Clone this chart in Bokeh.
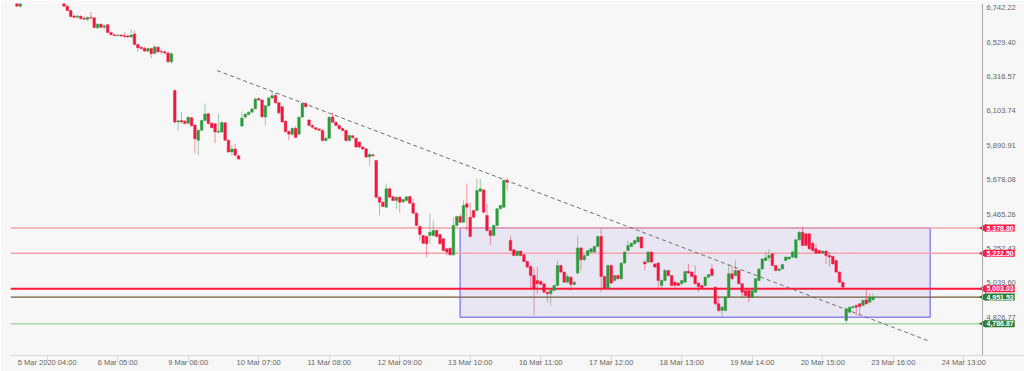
import numpy as np
from bokeh.plotting import figure
from bokeh.models import (ColumnDataSource, FixedTicker, NumeralTickFormatter, Label,
                          Range1d, BoxAnnotation, LinearAxis)
from bokeh.embed import file_html
from bokeh.resources import INLINE

# ---------------- data ----------------
# bar index of first candle (tick "5 Mar 2020 04:00" is bar 0).
# None = candle lies entirely above the visible price range (not readable)
first_bar = -10

opens = [
    None, 6795, 6752, None, None, None, None, None, None, None,
    None, None, None, None, None, 6790, 6752, 6725, 6692, 6684,
    6690, 6678, 6670, 6684, 6680, 6618, 6640, 6622, 6638, 6590,
    6576, 6570, 6574, 6570, 6568, 6562, 6580, 6515, 6498, 6492,
    6474, 6490, 6460, 6498, 6472, 6470, 6462, 6408, 6230, 6035,
    6044, 6040, 6028, 6062, 6016, 5922, 5984, 6044, 6086, 6028,
    6024, 5972, 5974, 6030, 5922, 5850, 5868, 5826, 6010, 6066,
    6082, 6096, 6118, 6180, 6172, 6066, 6136, 6184, 6200, 6154,
    6130, 6040, 5976, 5960, 5996, 5960, 6066, 6150, 6048, 6014,
    6000, 5992, 5983, 5921, 5935, 6066, 6034, 6014, 5995, 5983,
    5921, 5950, 5935, 5911, 5880, 5869, 5820, 5832, 5797, 5570,
    5539, 5508, 5622, 5572, 5550, 5570, 5540, 5549, 5574, 5533,
    5471, 5389, 5333, 5327, 5333, 5333, 5364, 5339, 5312, 5250,
    5254, 5213, 5395, 5450, 5415, 5529, 5446, 5487, 5487, 5607,
    5615, 5457, 5364, 5333, 5395, 5498, 5508, 5673, 5302, 5244,
    5209, 5236, 5213, 5172, 5141, 5085, 5054, 5050, 5034, 4982,
    4972, 4992, 5023, 5147, 5106, 5044, 5075, 5030, 5100, 5256,
    5182, 5209, 5230, 5230, 5265, 5327, 5079, 5007, 5147, 5054,
    5085, 5065, 5162, 5240, 5265, 5281, 5292, 5323, 5168, 5168,
    5230, 5157, 5162, 5023, 5054, 5116, 5085, 5044, 5038, 5034,
    5044, 5112, 5106, 5085, 5038, 5023, 5023, 5075, 5126, 5013,
    4910, 4869, 4869, 4951, 5096, 5085, 5116, 5034, 4992, 4992,
    4951, 4982, 5054, 5126, 5178, 5195, 5219, 5147, 5116, 5126,
    5178, 5188, 5199, 5195, 5306, 5353, 5343, 5343, 5285, 5250,
    5240, 5223, 5236, 5209, 5203, 5178, 5106, 5044, 4807, 4858,
    4885, 4900, 4910, 4900, 4935, 4920, 4935,
]
highs = [
    None, 6810, 6815, None, None, None, None, None, None, None,
    None, None, None, None, None, 6800, 6762, 6728, 6700, 6700,
    6694, 6692, 6690, 6715, 6682, 6648, 6645, 6642, 6642, 6595,
    6582, 6580, 6578, 6590, 6575, 6610, 6600, 6518, 6505, 6500,
    6496, 6495, 6512, 6508, 6488, 6480, 6470, 6468, 6235, 6048,
    6096, 6046, 6070, 6066, 6022, 5990, 6050, 6148, 6090, 6034,
    6030, 6085, 6040, 6035, 5928, 5893, 5900, 5830, 6100, 6090,
    6102, 6122, 6185, 6186, 6176, 6140, 6195, 6220, 6215, 6160,
    6134, 6048, 5985, 6002, 6010, 6070, 6158, 6158, 6052, 6020,
    6004, 5996, 5990, 5940, 6070, 6096, 6040, 6018, 6000, 5988,
    5958, 5955, 5940, 5916, 5884, 5872, 5840, 5836, 5802, 5575,
    5544, 5653, 5628, 5576, 5575, 5574, 5560, 5578, 5578, 5560,
    5476, 5394, 5338, 5332, 5467, 5426, 5370, 5345, 5318, 5254,
    5258, 5446, 5456, 5467, 5549, 5653, 5539, 5492, 5683, 5683,
    5620, 5529, 5370, 5400, 5504, 5524, 5680, 5690, 5330, 5250,
    5240, 5240, 5218, 5176, 5146, 5133, 5137, 5054, 5038, 4986,
    4996, 5028, 5178, 5152, 5110, 5096, 5080, 5048, 5333, 5262,
    5214, 5244, 5254, 5270, 5332, 5374, 5084, 5152, 5152, 5090,
    5090, 5167, 5235, 5302, 5290, 5306, 5328, 5328, 5180, 5235,
    5235, 5162, 5167, 5060, 5126, 5120, 5090, 5048, 5042, 5058,
    5114, 5157, 5110, 5147, 5042, 5028, 5080, 5096, 5157, 5020,
    4961, 4895, 4956, 5157, 5147, 5178, 5120, 5038, 4996, 4996,
    4996, 5070, 5130, 5192, 5230, 5250, 5224, 5150, 5130, 5158,
    5203, 5204, 5240, 5310, 5358, 5389, 5350, 5348, 5290, 5281,
    5244, 5240, 5240, 5230, 5208, 5182, 5110, 5048, 4885, 4894,
    4898, 4904, 4915, 4936, 5003, 4976, 4976,
]
lows = [
    None, 6748, 6742, None, None, None, None, None, None, None,
    None, None, None, None, None, 6748, 6722, 6682, 6676, 6678,
    6668, 6664, 6660, 6667, 6615, 6612, 6615, 6608, 6585, 6570,
    6565, 6566, 6562, 6555, 6555, 6558, 6512, 6470, 6485, 6470,
    6468, 6432, 6455, 6462, 6455, 6455, 6402, 6395, 6025, 5983,
    6024, 6020, 6022, 6008, 5840, 5830, 5978, 6040, 6020, 5995,
    5905, 5966, 5968, 5918, 5845, 5825, 5822, 5802, 6005, 6055,
    6075, 6090, 6112, 6165, 6062, 6014, 6130, 6180, 6148, 6085,
    6030, 5970, 5922, 5950, 5935, 5955, 6060, 6125, 6010, 5994,
    5982, 5978, 5915, 5912, 5930, 6030, 6008, 5988, 5978, 5915,
    5915, 5930, 5875, 5872, 5860, 5812, 5766, 5820, 5566, 5457,
    5506, 5504, 5565, 5545, 5498, 5477, 5535, 5544, 5528, 5466,
    5390, 5302, 5280, 5199, 5281, 5328, 5320, 5276, 5235, 5209,
    5208, 5208, 5390, 5410, 5410, 5364, 5320, 5440, 5482, 5600,
    5470, 5358, 5271, 5328, 5390, 5492, 5503, 5607, 5235, 5204,
    5204, 5204, 5167, 5132, 5003, 4838, 4972, 5025, 4977, 4920,
    4900, 4987, 5018, 5100, 5040, 5040, 4992, 5025, 5095, 5116,
    5178, 5204, 5226, 5226, 5260, 4982, 5002, 5002, 5033, 5050,
    5060, 5060, 5157, 5236, 5260, 5276, 5288, 5252, 5116, 5163,
    5163, 5132, 5003, 5003, 5048, 5080, 5018, 5003, 5018, 5028,
    5040, 5096, 5074, 5030, 4982, 5004, 5018, 5070, 5080, 4900,
    4860, 4827, 4864, 4946, 5060, 5080, 5030, 4951, 4956, 4920,
    4946, 4978, 5050, 5122, 5174, 5174, 5142, 5110, 5110, 5122,
    5174, 5185, 5195, 5190, 5300, 5266, 5266, 5245, 5235, 5218,
    5218, 5218, 5157, 5138, 5152, 5100, 5040, 5006, 4790, 4852,
    4880, 4838, 4838, 4895, 4905, 4915, 4930,
]
closes = [
    None, 6752, 6800, None, None, None, None, None, None, None,
    None, None, None, None, None, 6752, 6725, 6688, 6684, 6690,
    6676, 6672, 6682, 6680, 6620, 6640, 6622, 6630, 6590, 6575,
    6570, 6574, 6568, 6565, 6562, 6574, 6515, 6495, 6490, 6474,
    6490, 6458, 6500, 6470, 6468, 6462, 6408, 6458, 6035, 6043,
    6036, 6026, 6064, 6012, 5932, 5984, 6044, 6085, 6026, 6000,
    5974, 5978, 6032, 5922, 5850, 5868, 5830, 5806, 6060, 6084,
    6096, 6116, 6178, 6172, 6068, 6136, 6184, 6198, 6154, 6092,
    6036, 5975, 5960, 5996, 5940, 6064, 6150, 6130, 6014, 6003,
    5990, 5984, 5921, 5935, 6065, 6034, 6014, 5993, 5983, 5921,
    5952, 5940, 5880, 5880, 5868, 5818, 5835, 5826, 5570, 5539,
    5512, 5622, 5570, 5550, 5570, 5539, 5555, 5572, 5533, 5471,
    5395, 5339, 5285, 5281, 5353, 5364, 5327, 5281, 5240, 5230,
    5213, 5395, 5450, 5415, 5518, 5508, 5327, 5446, 5611, 5622,
    5477, 5364, 5333, 5395, 5498, 5518, 5673, 5663, 5240, 5209,
    5236, 5209, 5172, 5137, 5085, 5003, 5034, 5030, 4982, 4972,
    4992, 5023, 5147, 5106, 5044, 5079, 5030, 5044, 5256, 5182,
    5209, 5240, 5250, 5265, 5327, 5079, 5007, 5147, 5038, 5085,
    5065, 5162, 5230, 5271, 5285, 5302, 5323, 5256, 5157, 5230,
    5168, 5137, 5054, 5054, 5116, 5085, 5023, 5023, 5023, 5054,
    5110, 5100, 5079, 5034, 5017, 5009, 5075, 5091, 5085, 4910,
    4869, 4889, 4951, 5096, 5065, 5116, 5034, 4982, 4961, 4951,
    4992, 5065, 5126, 5188, 5195, 5209, 5147, 5116, 5126, 5153,
    5199, 5199, 5230, 5306, 5353, 5271, 5271, 5250, 5240, 5223,
    5223, 5236, 5209, 5199, 5157, 5106, 5044, 5013, 4879, 4889,
    4893, 4889, 4893, 4931, 4910, 4951, 4951,
]

# horizontal price levels drawn on the chart
levels = [5378.80, 5222.50, 5003.03, 4951.53, 4786.87]
level_colors = ["#f5a3ad", "#f5a3ad", "#ff1a3c", "#7a5b3e", "#a9d4a3"]
level_widths = [1.5, 1.5, 2, 1.2, 1.5]
tag_colors = ["#ff1a40", "#ff1a40", "#ff1a40", "#2e7d32", "#2e7d32"]

# range box and trend line
box_bars = [123, 263]
box_prices = [4827, 5378.80]
trend_bars = [50.6, 262.2]
trend_prices = [6354, 4683]

# axes
y_ticks = [4826.77, 5039.60, 5252.43, 5465.26, 5678.08, 5890.91, 6103.74, 6316.57, 6529.40, 6742.22]
x_tick_bars = [0, 21, 42, 63, 84, 105, 126, 147, 168, 189, 210, 231, 252, 273]
x_tick_labels = ["5 Mar 2020 04:00", "6 Mar 05:00", "9 Mar 06:00", "10 Mar 07:00", "11 Mar 08:00",
                 "12 Mar 09:00", "13 Mar 10:00", "16 Mar 11:00", "17 Mar 12:00", "18 Mar 13:00",
                 "19 Mar 14:00", "20 Mar 15:00", "23 Mar 16:00", "24 Mar 13:00"]

# ---------------- view (layout) ----------------
X_START, X_END = -10.93, 291.1     # visible bar range (frame spans whole width to the right)
AXIS_BAR = 278.6                    # where the price scale is drawn
Y_START, Y_END = 4589.9, 6768.8

o = np.array(opens, dtype=float)
h = np.array(highs, dtype=float)
l = np.array(lows, dtype=float)
c = np.array(closes, dtype=float)
n = len(o)
x = np.arange(first_bar, first_bar + n)
keep = ~np.isnan(o)
o, h, l, c, x = o[keep], h[keep], l[keep], c[keep], x[keep]
up = c >= o
body_col = np.where(up, "#2b9b3b", "#f3163d")

src = ColumnDataSource(dict(x=x, high=h, low=l, top=np.maximum(o, c), bottom=np.minimum(o, c),
                            color=body_col))

BG = "#f7f7f7"
p = figure(width=1024, height=371, output_backend="svg", toolbar_location=None,
           x_range=Range1d(X_START, X_END), y_range=Range1d(Y_START, Y_END),
           y_axis_location=None)
p.min_border_left = 10
p.min_border_right = 0
p.min_border_top = 3
p.min_border_bottom = 16
p.background_fill_color = BG
p.border_fill_color = BG
p.outline_line_color = None
p.grid.visible = False

# range box
p.add_layout(BoxAnnotation(left=box_bars[0], right=box_bars[1], bottom=box_prices[0], top=box_prices[1],
                           fill_color="#6a5acd", fill_alpha=0.1, line_color="#8a86f0",
                           line_width=1.5, line_alpha=1.0, level="underlay"))

# levels (stop at the price scale)
p.segment(x0=[X_START] * len(levels), y0=levels, x1=[AXIS_BAR] * len(levels), y1=levels,
          line_color=level_colors, line_width=level_widths)

# trend line
p.line(trend_bars, trend_prices, line_color="#6e6e6e", line_width=1, line_dash="4 3")

# candles
p.segment(x0="x", y0="high", x1="x", y1="low", line_color="color", line_alpha=0.45,
          line_width=1, source=src)
p.vbar(x="x", width=0.78, top="top", bottom="bottom", fill_color="color", line_color="color",
       line_width=0.4, source=src)

# price scale: a real axis fixed at AXIS_BAR (takes no side-panel space)
yax = LinearAxis(fixed_location=AXIS_BAR)
p.add_layout(yax, "right")
yax.ticker = FixedTicker(ticks=y_ticks)
yax.formatter = NumeralTickFormatter(format="0,0.00")
yax.major_tick_out = 0
yax.major_tick_in = 0
yax.minor_tick_line_color = None
yax.major_label_standoff = 4
yax.axis_line_color = "#a8a8a8"
yax.major_label_text_color = "#666666"
yax.major_label_text_font = "Liberation Sans"
yax.major_label_text_font_size = "7.5px"

xax = p.xaxis[0]
xax.ticker = FixedTicker(ticks=x_tick_bars)
xax.major_label_overrides = {b: s for b, s in zip(x_tick_bars, x_tick_labels)}
xax.major_tick_out = 7
xax.major_tick_in = 0
xax.major_tick_line_color = "#d8d8d8"
xax.minor_tick_line_color = None
xax.major_label_standoff = -5
xax.axis_line_color = "#dadada"
xax.major_label_text_color = "#666666"
xax.major_label_text_font = "Liberation Sans"
xax.major_label_text_font_size = "7.5px"

# price tags on the scale
tag_x = AXIS_BAR + 0.35
p.scatter(x=[tag_x] * len(levels), y=levels, marker="triangle", angle=np.pi / 2, size=7,
          fill_color=tag_colors, line_color=tag_colors)
for v, col in zip(levels, tag_colors):
    p.add_layout(Label(x=975, x_units="screen", y=v, y_units="data", text=f"{v:,.2f}",
                       text_color="white", text_font="Liberation Sans", text_font_size="7px",
                       text_font_style="bold", text_baseline="middle", text_align="left",
                       background_fill_color=col, padding=1))

open("out.html", "w").write(file_html(p, INLINE))
